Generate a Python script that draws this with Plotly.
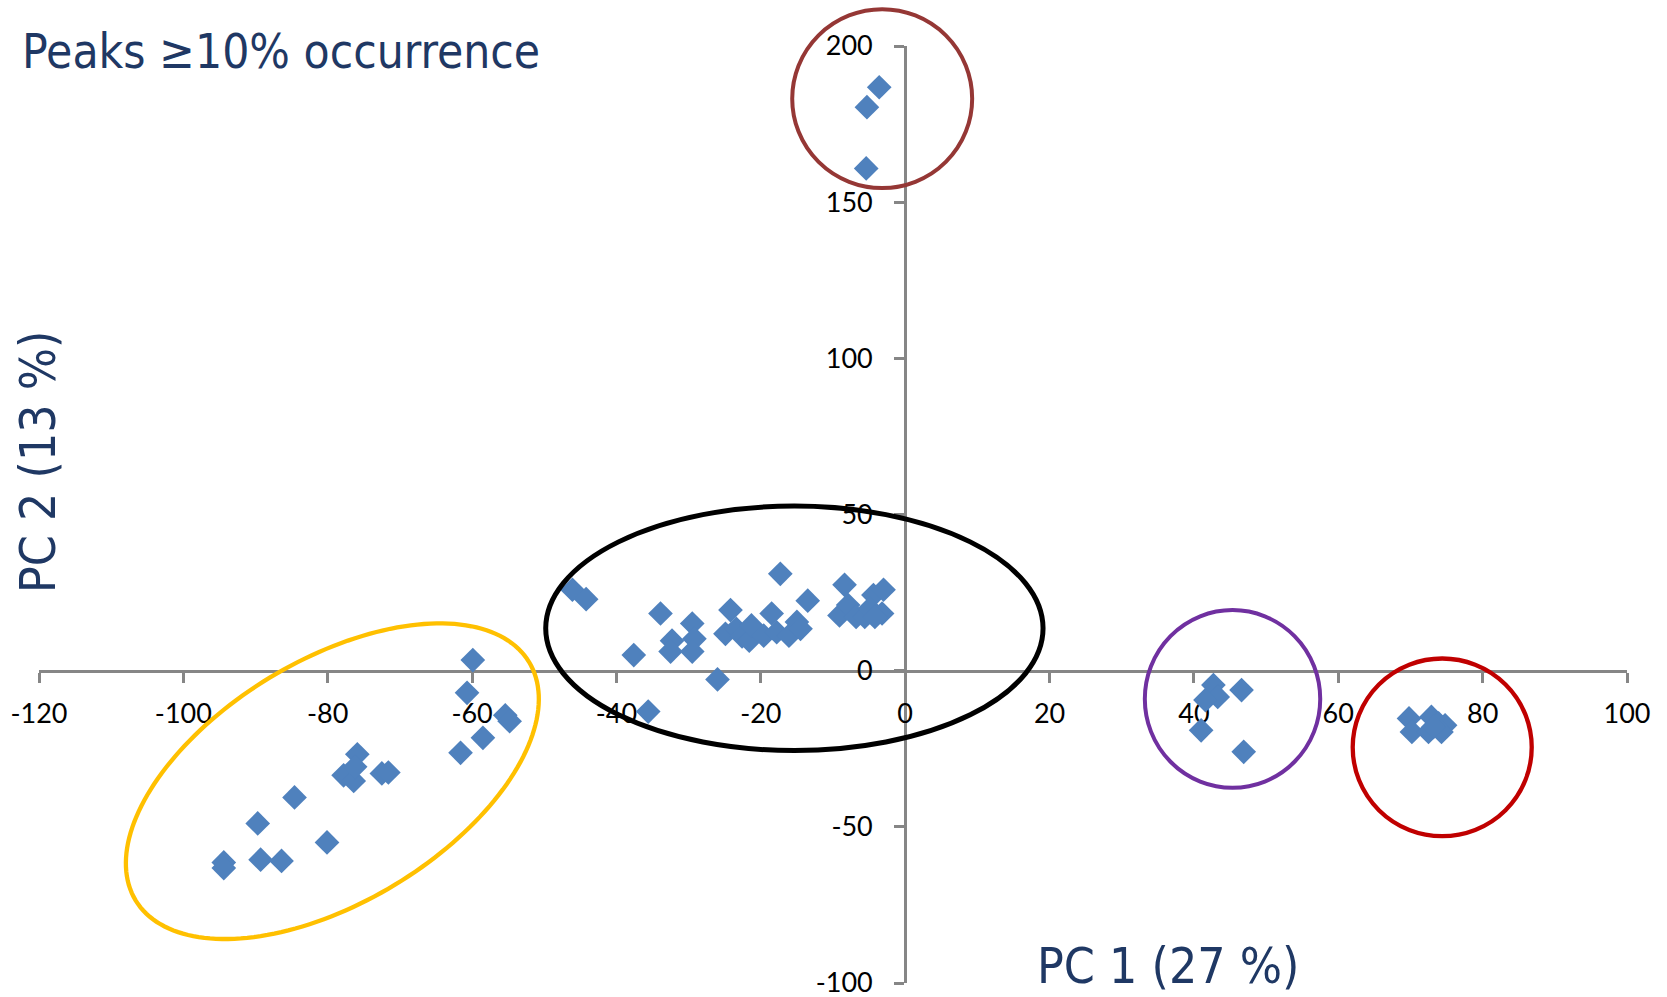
import numpy as np
import plotly.graph_objects as go

# ---------------- data ----------------
# cluster inside the yellow ellipse
yellow_pc1 = [-59.9, -60.7, -55.4, -54.8, -58.5, -61.6, -75.9, -77.8, -76.4, -76.2,
              -72.5, -71.6, -84.6, -89.7, -80.1, -89.3, -86.4, -94.4, -94.4]
yellow_pc2 = [3.4, -7.1, -14.3, -16.2, -21.5, -26.3, -26.8, -33.5, -35.3, -30.8,
              -32.9, -32.6, -40.6, -48.9, -55.0, -60.5, -60.9, -61.4, -63.2]
# cluster inside the black ellipse
black_pc1 = [-46.1, -44.2, -33.9, -37.6, -32.3, -32.5, -29.5, -29.2, -29.5, -26.0,
             -35.6, -24.2, -24.9, -23.4, -22.6, -21.6, -21.3, -19.6, -18.5, -17.8,
             -16.1, -17.3, -15.0, -13.5, -14.5, -8.4, -9.1, -7.9, -6.8, -5.6,
             -4.4, -3.0, -3.2, -4.9, -4.2]
black_pc2 = [25.9, 22.9, 18.3, 5.0, 9.6, 6.1, 15.1, 10.2, 6.1, -2.8,
             -13.1, 19.4, 11.8, 13.4, 11.0, 9.6, 14.5, 11.2, 18.3, 12.3,
             11.2, 31.0, 15.6, 22.4, 13.4, 27.5, 17.7, 21.0, 17.2, 17.2,
             24.2, 25.9, 18.3, 19.9, 17.2]
# cluster inside the brown circle (top)
brown_pc1 = [-3.6, -5.3, -5.4]
brown_pc2 = [186.8, 180.4, 160.8]
# cluster inside the purple circle
purple_pc1 = [42.7, 43.3, 41.6, 46.6, 41.0, 46.9]
purple_pc2 = [-4.6, -8.4, -9.4, -6.2, -19.1, -26.0]
# cluster inside the red circle
red_pc1 = [69.8, 70.2, 72.9, 72.5, 73.9, 74.8, 74.3, 73.2]
red_pc2 = [-15.3, -19.6, -14.8, -19.6, -16.9, -17.5, -19.6, -18.0]

x_ticks = [-120, -100, -80, -60, -40, -20, 0, 20, 40, 60, 80, 100]
y_ticks = [-100, -50, 0, 50, 100, 150, 200]
x_tick_text = [str(v) for v in x_ticks]
y_tick_text = [str(v) for v in y_ticks]

title_text = "Peaks ≥10% occurrence"
x_title = "PC 1 (27 %)"
y_title = "PC 2 (13 %)"

# ---------------- layout geometry ----------------
W, H = 1667, 997
ML, MR, MT, MB = 39, 40, 46, 14
X_RANGE = [-120, 100]
Y_RANGE = [-100, 200]
PW = W - ML - MR
PH = H - MT - MB
SX = PW / (X_RANGE[1] - X_RANGE[0])   # px per x unit
SY = PH / (Y_RANGE[1] - Y_RANGE[0])   # px per y unit


def px_paper_x(px):
    return (px - ML) / PW


def px_paper_y(py):
    return (H - MB - py) / PH


def data_paper_x(v):
    return (v - X_RANGE[0]) / (X_RANGE[1] - X_RANGE[0])


def data_paper_y(v):
    return (v - Y_RANGE[0]) / (Y_RANGE[1] - Y_RANGE[0])


all_x = yellow_pc1 + black_pc1 + brown_pc1 + purple_pc1 + red_pc1
all_y = yellow_pc2 + black_pc2 + brown_pc2 + purple_pc2 + red_pc2

fig = go.Figure()
fig.add_trace(go.Scatter(
    x=all_x, y=all_y, mode="markers",
    marker=dict(symbol="diamond", size=19, color="#4F81BD", line=dict(width=0)),
    showlegend=False, hoverinfo="x+y", cliponaxis=False,
))

# ---------------- cluster outlines (paper refs so nothing is clipped) ----------------
shapes = []
circles = [
    # (x0, x1, y0, y1 in data units, color, width)
    (-15.65, 9.28, 154.5, 211.8, "#953735", 4),
    (-49.8, 19.1, -25.6, 52.7, "#000000", 5),
    (33.2, 57.5, -37.5, 19.4, "#7030A0", 4),
    (62.0, 86.8, -53.0, 3.9, "#C00000", 4.3),
]
for x0, x1, y0, y1, col, lw in circles:
    shapes.append(dict(type="circle", xref="paper", yref="paper",
                       x0=data_paper_x(x0), x1=data_paper_x(x1),
                       y0=data_paper_y(y0), y1=data_paper_y(y1),
                       line=dict(color=col, width=lw), layer="above"))

# rotated yellow ellipse: centre in data units, semi-axes in screen px, tilt in degrees
yc_x, yc_y, ya, yb, ytheta = -79.36, -35.39, 230.0, 121.0, 31.2
t = np.linspace(0, 2 * np.pi, 181)
th = np.deg2rad(ytheta)
ex = yc_x + (ya * np.cos(t) * np.cos(th) - yb * np.sin(t) * np.sin(th)) / SX
ey = yc_y + (ya * np.cos(t) * np.sin(th) + yb * np.sin(t) * np.cos(th)) / SY
path = "M " + " L ".join(f"{data_paper_x(a):.5f},{data_paper_y(b):.5f}" for a, b in zip(ex, ey)) + " Z"
shapes.append(dict(type="path", xref="paper", yref="paper", path=path,
                   line=dict(color="#FFC000", width=4.3), layer="above"))

axis_common = dict(
    showline=True, linecolor="#868686", linewidth=3,
    ticks="outside", ticklen=10, tickwidth=3, tickcolor="#868686",
    showgrid=False, zeroline=False, anchor="free", layer="below traces",
    tickfont=dict(family="Lato, Carlito, 'Liberation Sans', sans-serif", size=27, color="#000000"),
    fixedrange=True, ticklabeloverflow="allow", automargin=False,
)

fig.update_layout(
    width=W, height=H,
    margin=dict(l=ML, r=MR, t=MT, b=MB, pad=0, autoexpand=False),
    paper_bgcolor="white", plot_bgcolor="white",
    xaxis=dict(range=X_RANGE, tickvals=x_ticks, ticktext=x_tick_text, ticklabelstandoff=8,
               position=data_paper_y(0), **axis_common),
    yaxis=dict(range=Y_RANGE, tickvals=y_ticks, ticktext=y_tick_text, ticklabelstandoff=16,
               position=data_paper_x(0), **axis_common),
    shapes=shapes,
    showlegend=False,
)

font_family = "'DejaVu Sans Condensed', 'DejaVu Sans', sans-serif"
fig.add_annotation(text=title_text, xref="paper", yref="paper",
                   x=px_paper_x(20), y=px_paper_y(52), xanchor="left", yanchor="middle",
                   showarrow=False, font=dict(family=font_family, size=47.5, color="#1F3864"))
fig.add_annotation(text=x_title, xref="paper", yref="paper",
                   x=px_paper_x(1168), y=px_paper_y(966), xanchor="center", yanchor="middle",
                   showarrow=False, font=dict(family=font_family, size=49.5, color="#1F3864"))
fig.add_annotation(text=y_title, xref="paper", yref="paper", textangle=-90,
                   x=px_paper_x(38), y=px_paper_y(462), xanchor="center", yanchor="middle",
                   showarrow=False, font=dict(family=font_family, size=49.5, color="#1F3864"))

fig.write_html("out.html",
               config={"displayModeBar": False},
               post_script="document.body.style.margin='0';document.body.style.overflow='hidden';")
